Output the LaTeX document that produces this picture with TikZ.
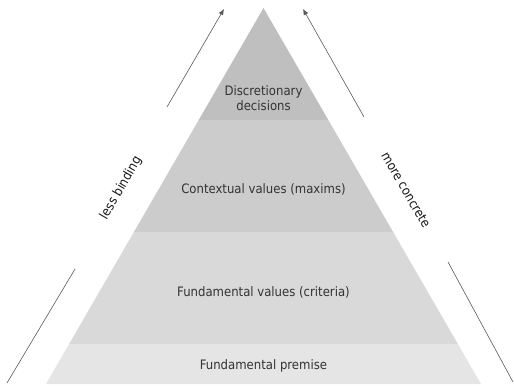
\documentclass[tikz,border=0pt]{standalone}
\usepackage{fontspec}
\setmainfont{DejaVu Sans Condensed}
\usepackage{xcolor}
\usepackage{tikz}
\usetikzlibrary{positioning, arrows.meta}

\begin{document}
\begin{tikzpicture}[x=1pt, y=-1pt, >={Latex[length=6pt, width=5pt]},
    level/.style={text=black!80, font=\fontsize{13}{15}\selectfont, align=center},
    side/.style={text=black!90, font=\fontsize{13}{15}\selectfont},
    guide/.style={draw=black!65, line width=0.6pt}]
  \useasboundingbox (0,0) rectangle (514,387);
  \coordinate (Apex) at (263.5,8);  % Top of the pyramid
  \coordinate (Left-1) at (198.7,120);  \coordinate (Right-1) at (328.3,120);
  \coordinate (Left-2) at (133.9,232);  \coordinate (Right-2) at (393.1,232);
  \coordinate (Left-3) at (69.1,344);   \coordinate (Right-3) at (457.9,344);
  \coordinate (Left-4) at (46,384);     \coordinate (Right-4) at (481,384);
  \fill[black!25] (Apex) -- (Left-1) -- (Right-1) -- cycle;  % Bands
  \fill[black!20] (Left-1) -- (Left-2) -- (Right-2) -- (Right-1) -- cycle;
  \fill[black!15] (Left-2) -- (Left-3) -- (Right-3) -- (Right-2) -- cycle;
  \fill[black!10] (Left-3) -- (Left-4) -- (Right-4) -- (Right-3) -- cycle;
  \node[level] (Level-1) at (263.5,98) {Discretionary\\decisions};
  \node[level] (Level-2) at (263.5,189) {Contextual values (maxims)};
  \node[level] (Level-3) at (263.5,292) {Fundamental values (criteria)};
  \node[level] (Level-4) at (263.5,366) {Fundamental premise};
  \node[side, rotate=60] (Less-binding) at (121,188) {less binding};  % Left side
  \node[side, rotate=-60] (More-concrete) at (406,190) {more concrete};  % Right side
  \coordinate (Less-top-start) at (167,107);  \coordinate (Less-top-end) at (224,9);
  \coordinate (Less-low-start) at (7,383);    \coordinate (Less-low-end) at (75,269);
  \coordinate (More-top-start) at (364,117);  \coordinate (More-top-end) at (303,9);
  \coordinate (More-low-start) at (513,382);  \coordinate (More-low-end) at (448,262);
  \draw[guide, ->] (Less-top-start) -- (Less-top-end);  % Arrows
  \draw[guide, ->] (More-top-start) -- (More-top-end);
  \draw[guide] (Less-low-start) -- (Less-low-end);
  \draw[guide] (More-low-start) -- (More-low-end);
\end{tikzpicture}
\end{document}
